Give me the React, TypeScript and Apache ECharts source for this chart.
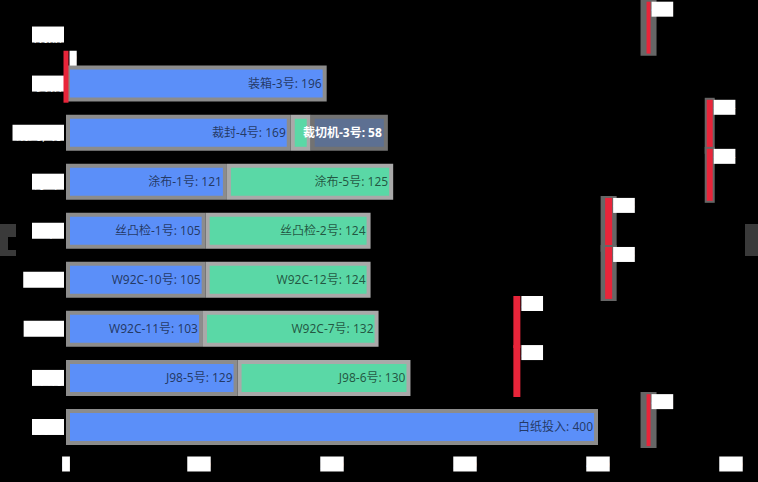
import React, { useEffect, useRef } from "react";
import * as echarts from "echarts";

// ---- data ----
const categories = ["投入", "印刷", "W92A", "W92C", "丝检", "涂布", "裁封/切", "装箱", "成品"];
const xTicks = [0, 100, 200, 300, 400, 500];

const firstNames = ["白纸投入", "J98-5号", "W92C-11号", "W92C-10号", "丝凸检-1号", "涂布-1号", "裁封-4号", "装箱-3号", ""];
const firstValues = [400, 129, 103, 105, 105, 121, 169, 196, null];

const secondNames = ["", "J98-6号", "W92C-7号", "W92C-12号", "丝凸检-2号", "涂布-5号", "", "", ""];
const secondValues = [null, 130, 132, 124, 124, 125, 15, null, null];

const thirdNames = ["", "", "", "", "", "", "裁切机-3号", "", ""];
const thirdValues = [null, null, null, null, null, null, 58, null, null];

// markers: [x value, category index]
const markerX = [0, 438, 484, 484, 408, 408, 339, 339, 438];
const markerCat = [7, 8, 6, 5, 4, 3, 2, 1, 0];
// style per marker (not data)
const markerRedWidth = [5, 4, 6, 6, 7, 7, 7, 7, 4];
const markerFramePad = [0, 6, 2, 2, 4.5, 4.5, 0, 0, 6];

const BLUE = "#5b8ff9";
const GREEN = "#5ad8a6";
const SLATE = "#5d7092";
const RED = "#e8253a";

export default function App() {
  const ref = useRef<HTMLDivElement>(null);

  useEffect(() => {
    document.body.style.margin = "0";
    document.body.style.background = "#000";
    const chart = echarts.init(ref.current!, null, { renderer: "svg" });

    const barLabel = {
      show: true,
      position: "insideRight",
      fontSize: 12,
      color: "rgba(0,0,0,0.62)",
      fontFamily: "Noto Sans, Noto Sans CJK SC, sans-serif",
    };

    const mkData = (vals: (number | null)[], names: string[]) =>
      vals.map((v, i) => ({ value: v, segName: names[i] }));

    const fmt = (p: any) => (p.data && p.data.segName ? `${p.data.segName}: ${p.value}` : "");

    const markerData = markerX.map((x, i) => ({
      value: [x, markerCat[i]],
      redW: markerRedWidth[i],
      pad: markerFramePad[i],
    }));

    const option: any = {
      animation: false,
      backgroundColor: "#000",
      grid: { left: 66, right: 27, top: 10, bottom: 30.5 },
      xAxis: {
        type: "value",
        min: xTicks[0],
        max: xTicks[xTicks.length - 1],
        interval: 100,
        axisLine: { show: false },
        axisTick: { show: false },
        splitLine: { show: false },
        axisLabel: {
          margin: 5,
          fontSize: 13,
          lineHeight: 15,
          fontFamily: "DejaVu Sans Mono",
          color: "#fff",
          backgroundColor: "#fff",
        },
      },
      yAxis: {
        type: "category",
        data: categories,
        axisLine: { show: false },
        axisTick: { show: false },
        splitLine: { show: false },
        axisLabel: {
          margin: 2,
          fontSize: 14,
          lineHeight: 14,
          padding: [1, 2, 1, 2],
          fontFamily: "Noto Sans CJK SC",
          color: "#fff",
          backgroundColor: "#fff",
        },
      },
      series: [
        {
          type: "bar",
          stack: "a",
          barWidth: 36,
          data: mkData(firstValues, firstNames),
          itemStyle: { color: BLUE, borderColor: "#8c8c8c", borderWidth: 4 },
          label: { ...barLabel, formatter: fmt },
        },
        {
          type: "bar",
          stack: "a",
          barWidth: 36,
          data: mkData(secondValues, secondNames),
          itemStyle: { color: GREEN, borderColor: "#a9a9a9", borderWidth: 4 },
          label: { ...barLabel, formatter: fmt },
        },
        {
          type: "bar",
          stack: "a",
          barWidth: 36,
          data: mkData(thirdValues, thirdNames),
          itemStyle: { color: SLATE, borderColor: "#727272", borderWidth: 4 },
          label: {
            ...barLabel,
            color: "#fff",
            fontWeight: "bold",
            fontSize: 12,
            distance: 6,
            formatter: fmt,
          },
        },
        {
          type: "custom",
          z: 10,
          clip: false,
          encode: { x: 0, y: 1 },
          data: markerData,
          renderItem: (params: any, api: any) => {
            const pt = api.coord([api.value(0), api.value(1)]);
            const band = api.size([0, 1])[1];
            const d = markerData[params.dataIndex];
            const top = pt[1] - band * 0.69;
            const h = band * 1.1;
            const rw = d.redW;
            const children: any[] = [];
            if (d.pad > 0) {
              children.push({
                type: "rect",
                shape: { x: pt[0] - rw / 2 - d.pad, y: top - 1, width: rw + d.pad * 2, height: h + 2 },
                style: { fill: "#666" },
              });
            }
            children.push({
              type: "rect",
              shape: { x: pt[0] - rw / 2, y: top + 1, width: rw, height: h - 2 },
              style: { fill: RED },
            });
            children.push({
              type: "text",
              x: pt[0] + rw / 2 + 1,
              y: top + 1,
              style: {
                text: String(api.value(0)),
                fill: "#fff",
                backgroundColor: "#fff",
                fontSize: 12,
                lineHeight: 15,
                fontFamily: "DejaVu Sans Mono",
                verticalAlign: "top",
                align: "left",
              },
            });
            return { type: "group", children };
          },
        },
      ],
      graphic: [
        { type: "rect", shape: { x: 0, y: 224, width: 16, height: 13 }, style: { fill: "#3a3a3a" } },
        { type: "rect", shape: { x: 0, y: 237, width: 8, height: 13 }, style: { fill: "#3a3a3a" } },
        { type: "rect", shape: { x: 0, y: 250, width: 16, height: 6 }, style: { fill: "#3a3a3a" } },
        { type: "rect", shape: { x: 745, y: 224, width: 13, height: 32 }, style: { fill: "#3a3a3a" } },
      ],
    };

    chart.setOption(option);
    return () => chart.dispose();
  }, []);

  return <div ref={ref} style={{ width: 758, height: 482, background: "#000" }} />;
}
